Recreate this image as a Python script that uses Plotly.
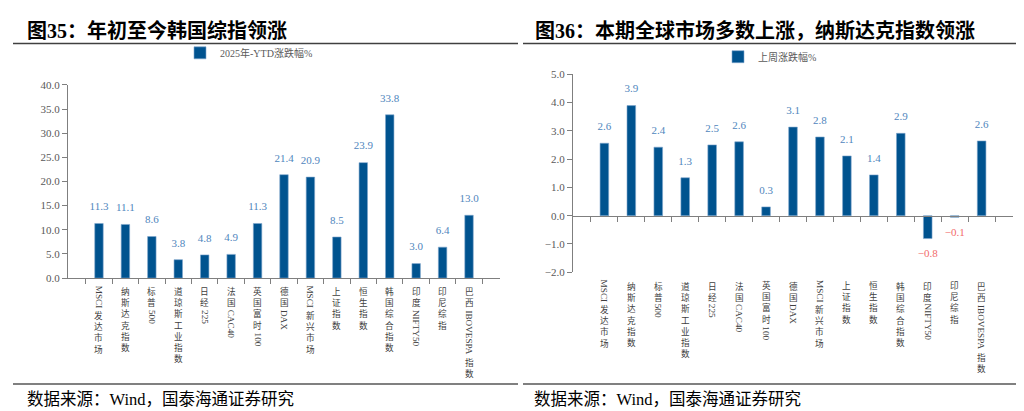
import plotly.graph_objects as go

categories = ["MSCI发达市场", "纳斯达克指数", "标普500", "道琼斯工业指数", "日经225", "法国CAC40",
              "英国富时100", "德国DAX", "MSCI新兴市场", "上证指数", "恒生指数", "韩国综合指数",
              "印度NIFTY50", "印尼综指", "巴西IBOVESPA指数"]
ytd_values = [11.3, 11.1, 8.6, 3.8, 4.8, 4.9, 11.3, 21.4, 20.9, 8.5, 23.9, 33.8, 3.0, 6.4, 13.0]
week_values = [2.56, 3.89, 2.42, 1.34, 2.50, 2.61, 0.31, 3.13, 2.78, 2.11, 1.44, 2.91, -0.81, -0.06, 2.64]
ytd_ticks = [0, 5, 10, 15, 20, 25, 30, 35, 40]
week_ticks = [-2, -1, 0, 1, 2, 3, 4, 5]

titles = ["图35：年初至今韩国综指领涨", "图36：本期全球市场多数上涨，纳斯达克指数领涨"]
series_names = ["2025年-YTD涨跌幅%", "上周涨跌幅%"]
source_text = "数据来源：Wind，国泰海通证券研究"

W, H = 1024, 411
BAR = "#00538F"
LABEL_BLUE = "#4F86BD"
LABEL_RED = "#F26B6B"
AXIS = "#7F7F7F"
TICK = "#595959"
SERIF = "Liberation Serif, Noto Sans CJK SC"
CJK = "Noto Sans CJK SC"

# pixel boxes of the two plot areas
left_px = dict(x0=60, x1=492, y0=73, y1=272)
right_px = dict(x0=565, x1=1005, y0=62, y1=266)


def dom_x(b):
    return [b["x0"] / W, b["x1"] / W]


def dom_y(b):
    return [1 - b["y1"] / H, 1 - b["y0"] / H]


def fmt(v):
    return f"{v:.1f}".replace("-", "−")


fig = go.Figure()

# left panel
fig.add_trace(go.Bar(
    x=categories, y=ytd_values, name=series_names[0], width=0.32,
    marker=dict(color=BAR, line=dict(color="#7FA6CC", width=0.6)),
    xaxis="x", yaxis="y", legend="legend", hoverinfo="x+y",
))
fig.add_trace(go.Scatter(
    x=categories, y=ytd_values, mode="markers+text",
    text=[fmt(v) for v in ytd_values], textposition="top center",
    textfont=dict(family=SERIF, size=11, color=LABEL_BLUE),
    marker=dict(size=15, opacity=0), showlegend=False, hoverinfo="skip",
    xaxis="x", yaxis="y",
))

# right panel
fig.add_trace(go.Bar(
    x=categories, y=week_values, name=series_names[1], width=0.32,
    marker=dict(color=BAR, line=dict(color="#7FA6CC", width=0.6)),
    xaxis="x2", yaxis="y2", legend="legend2", hoverinfo="x+y",
))
fig.add_trace(go.Scatter(
    x=categories, y=week_values, mode="markers+text",
    text=[fmt(v) for v in week_values],
    textposition=["top center" if v >= 0 else "bottom center" for v in week_values],
    textfont=dict(family=SERIF, size=11,
                  color=[LABEL_BLUE if v >= 0 else LABEL_RED for v in week_values]),
    marker=dict(size=15, opacity=0), showlegend=False, hoverinfo="skip",
    xaxis="x2", yaxis="y2",
))

ydom2 = dom_y(right_px)
zero_pos = ydom2[0] + (0 - week_ticks[0]) / (week_ticks[-1] - week_ticks[0]) * (ydom2[1] - ydom2[0])

axis_common = dict(showgrid=False, zeroline=False, showline=True, linecolor=AXIS, linewidth=1.2,
                   ticks="outside", ticklen=5, tickcolor=AXIS, tickwidth=1)

fig.update_layout(
    width=W, height=H, margin=dict(l=0, r=0, t=0, b=0),
    paper_bgcolor="white", plot_bgcolor="white",
    font=dict(family=SERIF, size=11, color=TICK),
    bargap=0.68,
    xaxis=dict(domain=dom_x(left_px), anchor="y", type="category", tickson="boundaries",
               showticklabels=False, **axis_common),
    yaxis=dict(domain=dom_y(left_px), anchor="x", range=[ytd_ticks[0], ytd_ticks[-1]],
               tickvals=ytd_ticks, tickformat=".1f", tickfont=dict(family=SERIF, size=11, color=TICK),
               **axis_common),
    xaxis2=dict(domain=dom_x(right_px), anchor="free", position=zero_pos, type="category",
                tickson="boundaries", showticklabels=False, **axis_common),
    yaxis2=dict(domain=ydom2, anchor="x2", range=[week_ticks[0], week_ticks[-1]],
                tickvals=week_ticks, tickformat=".1f", tickfont=dict(family=SERIF, size=11, color=TICK),
                **axis_common),
    legend=dict(x=172 / W, y=1 - 40 / H, xanchor="left", yanchor="middle",
                font=dict(family=SERIF, size=10, color=TICK), bgcolor="rgba(0,0,0,0)"),
    legend2=dict(x=710 / W, y=1 - 44 / H, xanchor="left", yanchor="middle",
                 font=dict(family=SERIF, size=10, color=TICK), bgcolor="rgba(0,0,0,0)"),
    showlegend=True,
)

# vertical category labels: CJK upright (stacked), Latin runs rotated
TIMES = {"A": 722, "B": 667, "C": 667, "D": 722, "E": 611, "F": 556, "I": 333, "L": 611,
         "M": 889, "N": 722, "O": 722, "P": 556, "S": 556, "T": 611, "V": 722, "X": 722,
         "Y": 722}
LSIZE = 9.2
CSIZE = 8.6
GAP = 0.5


def runs(label):
    out = []
    for ch in label:
        kind = "c" if ord(ch) > 0x2E80 else "l"
        if out and out[-1][0] == kind:
            out[-1] = (kind, out[-1][1] + ch)
        else:
            out.append((kind, ch))
    return out


annotations = []
for xref, b in (("x", left_px), ("x2", right_px)):
    ybot = 1 - b["y1"] / H
    for cat in categories:
        off = 7
        for kind, txt in runs(cat):
            if kind == "c":
                h = len(txt) * 1.3 * CSIZE + 1.5
                annotations.append(dict(x=cat, xref=xref, y=ybot, yref="paper", text="<br>".join(txt),
                                        showarrow=False, xanchor="center", yanchor="middle", borderpad=0,
                                        yshift=-(off + h / 2), font=dict(family=CJK, size=CSIZE, color="#404040")))
            else:
                h = sum(TIMES.get(c, 500) for c in txt) * LSIZE / 1000 + 1
                annotations.append(dict(x=cat, xref=xref, y=ybot, yref="paper", text=txt,
                                        showarrow=False, textangle=90, xanchor="center", yanchor="middle",
                                        borderpad=0, yshift=-(off + h / 2),
                                        font=dict(family="Liberation Serif", size=LSIZE, color="#404040")))
            off += h + GAP

# titles and sources
for x0, t in ((17, titles[0]), (525, titles[1])):
    annotations.append(dict(x=x0 / W, y=1 - 17 / H, xref="paper", yref="paper", text=f"<b>{t}</b>",
                            showarrow=False, xanchor="left", yanchor="middle",
                            font=dict(family=SERIF, size=20, color="black")))
for x0 in (17, 524):
    annotations.append(dict(x=x0 / W, y=1 - 397 / H, xref="paper", yref="paper", text=source_text,
                            showarrow=False, xanchor="left", yanchor="middle",
                            font=dict(family=SERIF, size=16.5, color="black")))
fig.update_layout(annotations=annotations)

shapes = []
for xa, xb in ((5, 510), (515, 1020)):
    shapes.append(dict(type="line", xref="paper", yref="paper", x0=xa / W, x1=xb / W,
                       y0=1 - 30.5 / H, y1=1 - 30.5 / H, line=dict(color="#404040", width=1.5)))
    shapes.append(dict(type="line", xref="paper", yref="paper", x0=xa / W, x1=xb / W,
                       y0=1 - 381 / H, y1=1 - 381 / H, line=dict(color="#808080", width=2)))
fig.update_layout(shapes=shapes)

fig.write_html("out.html")
